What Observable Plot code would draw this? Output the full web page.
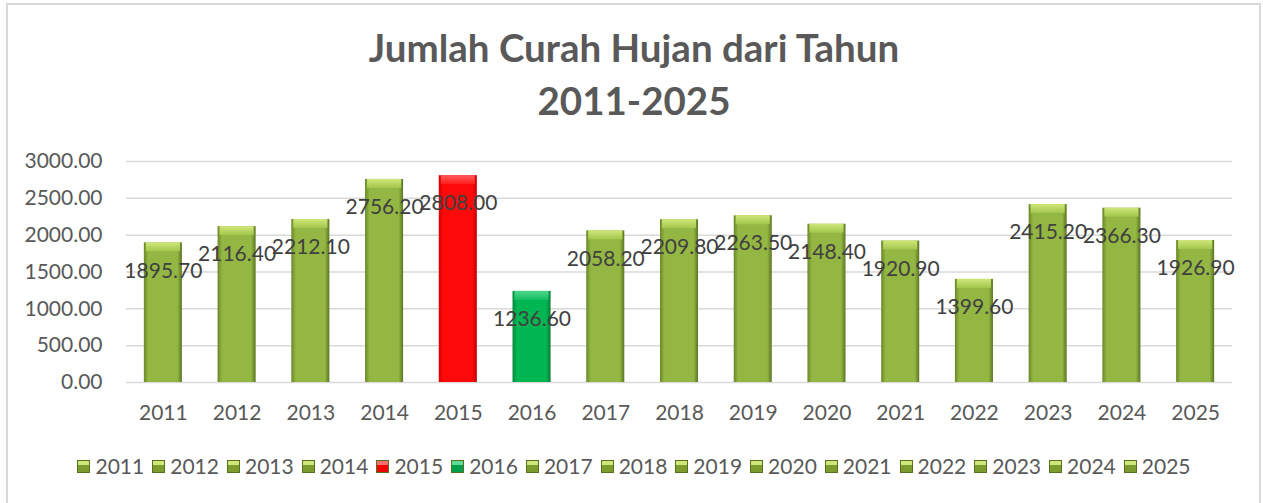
<!DOCTYPE html>
<html>
<head>
<meta charset="utf-8">
<script src="https://cdn.jsdelivr.net/npm/d3@7"></script>
<script src="https://cdn.jsdelivr.net/npm/@observablehq/plot@0.6"></script>
<style>
  html, body { margin: 0; padding: 0; background: #fff; }
  body { width: 1263px; height: 503px; position: relative; overflow: hidden; font-family: Lato, "Open Sans", sans-serif; }
  #frame { position: absolute; left: 6px; top: 3px; width: 1251px; height: 520px; border: 2px solid #d9d9d9; border-bottom: none; }
  #title { position: absolute; left: 0; top: 21px; width: 1268px; text-align: center; font-weight: 700; font-size: 38.5px; line-height: 53px; color: #595959; }
  #chart { position: absolute; left: 0; top: 140px; }
  #legend { position: absolute; left: 0; top: 452px; width: 1276px; display: flex; justify-content: center; font-size: 21px; color: #595959; line-height: 28px; }
  .item { display: flex; align-items: center; margin-right: 8px; }
  .sw { width: 11px; height: 11px; margin-right: 5px; border: 1px solid #55701f; }
</style>
</head>
<body>
<div id="frame"></div>
<div id="title">Jumlah Curah Hujan dari Tahun<br>2011-2025</div>
<div id="chart"></div>
<div id="legend"></div>
<script>
// ---- data ----
const years = ["2011","2012","2013","2014","2015","2016","2017","2018","2019","2020","2021","2022","2023","2024","2025"];
const rainfall = [1895.70, 2116.40, 2212.10, 2756.20, 2808.00, 1236.60, 2058.20, 2209.80, 2263.50, 2148.40, 1920.90, 1399.60, 2415.20, 2366.30, 1926.90];
const yTicks = [0, 500, 1000, 1500, 2000, 2500, 3000];

// ---- styling (kept separate from data) ----
const kindOf = y => y === "2015" ? "red" : y === "2016" ? "teal" : "olive";
const palette = {
  olive: {edge1: "#6a8828", mid: "#94b744", edge2: "#5b7520", top1: "#cfe77a", top2: "#a3c64c", sw1: "#cfe879", sw2: "#7c9c30"},
  red:   {edge1: "#d40000", mid: "#ff0a0a", edge2: "#c00000", top1: "#ff5a5a", top2: "#ff1e1e", sw1: "#ff7070", sw2: "#f00000"},
  teal:  {edge1: "#00893c", mid: "#00b652", edge2: "#007a34", top1: "#4fd58c", top2: "#14be60", sw1: "#5fdc98", sw2: "#00a04a"}
};

const data = years.map((y, i) => ({year: y, value: rainfall[i], kind: kindOf(y)}));

const marks = [
  Plot.gridY({ticks: yTicks, stroke: "#d9d9d9", strokeOpacity: 1, strokeWidth: 1.5}),
];
for (const k of Object.keys(palette)) {
  const subset = data.filter(d => d.kind === k);
  marks.push(Plot.barY(subset, {x: "year", y: "value", fill: `url(#bar-${k})`}));
  marks.push(Plot.barY(subset, {x: "year", y1: "value", y2: "value", insetBottom: -9, insetLeft: 2, insetRight: 2, fill: `url(#top-${k})`}));
}
marks.push(
  Plot.text(data, {x: "year", y: "value", text: d => d.value.toFixed(2), dy: 28, fill: "#404040", fontSize: 21}),
  Plot.axisY({ticks: yTicks, tickFormat: d3.format(".2f"), tickSize: 0, tickPadding: 24, label: null, fill: "#595959", fontSize: 21}),
  Plot.axisX({tickSize: 0, tickPadding: 23, label: null, fill: "#595959", fontSize: 21})
);

const chart = Plot.plot({
  width: 1263,
  height: 300,
  marginTop: 21,
  marginBottom: 58,
  marginLeft: 126,
  marginRight: 31,
  style: {fontFamily: "Lato, 'Open Sans', sans-serif", fontSize: "21px", background: "transparent", color: "#595959"},
  x: {domain: years, paddingInner: 0.484, paddingOuter: 0.242, round: false},
  y: {domain: [0, 3000]},
  marks
});

// gradient definitions
const defs = d3.select(chart).insert("defs", ":first-child");
for (const [k, c] of Object.entries(palette)) {
  const g = defs.append("linearGradient").attr("id", `bar-${k}`).attr("x1", 0).attr("x2", 1).attr("y1", 0).attr("y2", 0);
  [[0, c.edge1], [0.12, c.mid], [0.5, c.mid], [0.88, c.mid], [1, c.edge2]].forEach(([o, col]) =>
    g.append("stop").attr("offset", o).attr("stop-color", col));
  const t = defs.append("linearGradient").attr("id", `top-${k}`).attr("x1", 0).attr("x2", 0).attr("y1", 0).attr("y2", 1);
  [[0, c.top1], [1, c.top2]].forEach(([o, col]) => t.append("stop").attr("offset", o).attr("stop-color", col));
}
document.getElementById("chart").appendChild(chart);

// legend
const legend = d3.select("#legend");
for (const d of data) {
  const c = palette[d.kind];
  const it = legend.append("div").attr("class", "item");
  it.append("div").attr("class", "sw")
    .style("background", `linear-gradient(to bottom, ${c.sw1} 0%, ${c.sw1} 35%, ${c.sw2} 36%, ${c.sw2} 100%)`);
  it.append("span").text(d.year);
}
</script>
</body>
</html>
